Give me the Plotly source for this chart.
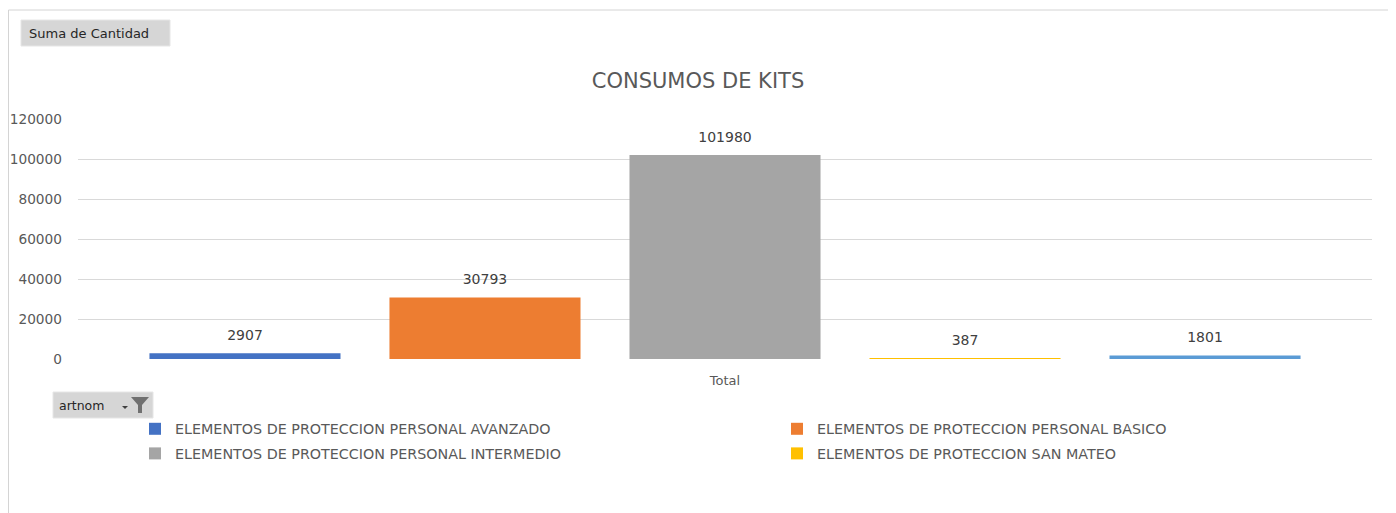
import plotly.graph_objects as go

W, H = 1396, 513
categories = ["Total"]
series_names = [
    "ELEMENTOS DE PROTECCION PERSONAL AVANZADO",
    "ELEMENTOS DE PROTECCION PERSONAL BASICO",
    "ELEMENTOS DE PROTECCION PERSONAL INTERMEDIO",
    "ELEMENTOS DE PROTECCION SAN MATEO",
    "ELEMENTOS DE PROTECCION OTROS",
]
series_values = [2907, 30793, 101980, 387, 1801]
colors = ["#4472C4", "#ED7D31", "#A5A5A5", "#FFC000", "#5B9BD5"]
legend_ids = ["legend", "legend2", "legend", "legend2", None]
y_ticks = [0, 20000, 40000, 60000, 80000, 100000, 120000]

OFF = 8  # page body margin


def px(x):
    return (x - OFF) / W


def py(y):
    return 1 - (y - OFF) / H


FONT = "DejaVu Sans"
fig = go.Figure()
for i, (name, val, col, lg) in enumerate(zip(series_names, series_values, colors, legend_ids)):
    fig.add_trace(go.Bar(
        x=categories, y=[val], name=name, offsetgroup=str(i),
        marker=dict(color=col, line=dict(width=0)),
        showlegend=lg is not None, legend=lg if lg else "legend",
        legendgroup=f"g{i}", hoverinfo="name+y",
    ))
for i, val in enumerate(series_values):
    fig.add_trace(go.Scatter(
        x=categories, y=[val], mode="markers+text", offsetgroup=str(i),
        text=[str(val)], textposition="top center",
        marker=dict(size=14, opacity=0),
        textfont=dict(size=14, color="#404040", family=FONT),
        showlegend=False, hoverinfo="skip", cliponaxis=False,
    ))

fig.update_layout(
    width=W, height=H,
    margin=dict(l=0, r=0, t=0, b=0),
    paper_bgcolor="white", plot_bgcolor="white",
    barmode="group", bargap=0.0726, bargroupgap=0.204,
    scattermode="group", scattergap=0.0726,
    font=dict(family=FONT, color="#595959", size=13),
    title=dict(text="CONSUMOS DE KITS", x=px(698), xanchor="center", y=py(81), yanchor="middle",
               font=dict(size=21, color="#595959", family=FONT)),
    xaxis=dict(domain=[px(78), px(1372)], showgrid=False, showline=False, automargin=False,
               ticks="", tickfont=dict(size=13, color="#595959"), ticklabelstandoff=12),
    yaxis=dict(domain=[py(359), py(119)], range=[0, 120000], tickvals=y_ticks,
               ticktext=[str(t) for t in y_ticks], gridcolor="#D9D9D9", zeroline=False,
               automargin=False, tickfont=dict(size=13.7, color="#595959"), ticklabelstandoff=15),
    legend=dict(x=px(135), y=py(413), xanchor="left", yanchor="top", orientation="v",
                font=dict(size=14.3, color="#595959"), tracegroupgap=3, itemwidth=30,
                traceorder="grouped", bgcolor="rgba(0,0,0,0)"),
    legend2=dict(x=px(777), y=py(413), xanchor="left", yanchor="top", orientation="v",
                 font=dict(size=14.3, color="#595959"), tracegroupgap=3, itemwidth=30,
                 traceorder="grouped", bgcolor="rgba(0,0,0,0)"),
    shapes=[
        dict(type="rect", xref="paper", yref="paper", x0=px(8.5), x1=px(1390.5), y0=py(530), y1=py(10),
             line=dict(color="#D4D4D4", width=1), fillcolor="rgba(0,0,0,0)", layer="below"),
        dict(type="rect", xref="paper", yref="paper", x0=px(21), x1=px(170), y0=py(46), y1=py(20),
             line=dict(color="#E6E6E6", width=1), fillcolor="#D6D6D6"),
        dict(type="rect", xref="paper", yref="paper", x0=px(53), x1=px(153), y0=py(418), y1=py(392),
             line=dict(color="#E6E6E6", width=1), fillcolor="#D6D6D6"),
        dict(type="path", xref="paper", yref="paper",
             path=f"M {px(131)} {py(397)} L {px(149)} {py(397)} L {px(142)} {py(405)} L {px(142)} {py(413)} L {px(138)} {py(413)} L {px(138)} {py(405)} Z",
             line=dict(color="#707070", width=0), fillcolor="#707070"),
        dict(type="path", xref="paper", yref="paper",
             path=f"M {px(122)} {py(406)} L {px(128)} {py(406)} L {px(125)} {py(409)} Z",
             line=dict(color="#404040", width=0), fillcolor="#404040"),
    ],
    annotations=[
        dict(text="Suma de Cantidad", xref="paper", yref="paper", x=px(27), y=py(33),
             xanchor="left", yanchor="middle", showarrow=False,
             font=dict(size=13, color="#262626", family=FONT)),
        dict(text="artnom", xref="paper", yref="paper", x=px(57), y=py(405),
             xanchor="left", yanchor="middle", showarrow=False,
             font=dict(size=12.5, color="#262626", family=FONT)),
    ],
)

fig.write_html("out.html")
